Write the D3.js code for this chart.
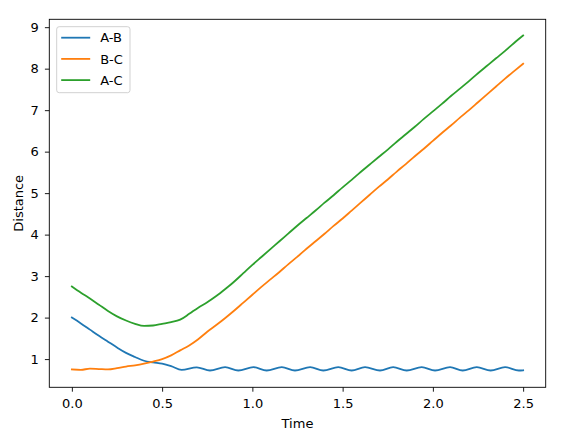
<!DOCTYPE html>
<html lang="en">
<head>
<meta charset="UTF-8">
<title>Distance vs Time</title>
<script src="https://d3js.org/d3.v7.min.js"></script>
<style>
    body { margin: 0; background: #fff; }
    text { font-family: "DejaVu Sans", sans-serif; }
</style>
</head>
<body>
<script>
    // sampled time grid for B-C and A-C
    var timeGrid = [0.00,0.05,0.10,0.15,0.20,0.25,0.30,0.35,0.40,0.45,0.50,0.55,0.60,0.65,0.70,0.75,0.80,0.85,0.90,0.95,
        1.00,1.05,1.10,1.15,1.20,1.25,1.30,1.35,1.40,1.45,1.50,1.55,1.60,1.65,1.70,1.75,1.80,1.85,1.90,1.95,
        2.00,2.05,2.10,2.15,2.20,2.25,2.30,2.35,2.40,2.45,2.50];
    var distBC = [0.75,0.74,0.77,0.76,0.75,0.78,0.82,0.85,0.89,0.94,1.00,1.09,1.21,1.33,1.48,1.66,1.82,1.99,2.17,2.36,
        2.55,2.74,2.92,3.10,3.29,3.47,3.66,3.84,4.02,4.21,4.39,4.58,4.77,4.96,5.15,5.33,5.52,5.70,5.89,6.07,
        6.26,6.45,6.63,6.82,7.00,7.19,7.38,7.57,7.76,7.94,8.12];
    var distAC = [2.75,2.60,2.46,2.31,2.16,2.03,1.93,1.85,1.80,1.81,1.85,1.89,1.95,2.09,2.24,2.37,2.52,2.69,2.87,3.07,
        3.27,3.46,3.65,3.84,4.03,4.22,4.40,4.58,4.77,4.95,5.14,5.32,5.51,5.69,5.87,6.05,6.24,6.42,6.60,6.79,
        6.97,7.15,7.34,7.52,7.70,7.89,8.07,8.25,8.43,8.62,8.80];

    // A-B: read at its peaks and troughs once it starts to oscillate
    var timeAB = [0.00,0.05,0.10,0.15,0.20,0.25,0.30,0.35,0.40,0.45,0.50,0.55,
        0.608,0.692,0.765,0.849,0.922,1.006,1.079,1.163,1.236,1.320,1.393,1.476,1.550,1.624,
        1.707,1.780,1.855,1.938,2.012,2.095,2.165,2.243,2.320,2.400,2.476,2.500];
    var distAB = [2.00,1.86,1.71,1.56,1.42,1.28,1.15,1.05,0.96,0.92,0.89,0.83,
        0.74,0.80,0.725,0.805,0.725,0.805,0.725,0.805,0.725,0.805,0.725,0.805,0.725,0.805,
        0.725,0.805,0.725,0.805,0.725,0.805,0.725,0.805,0.725,0.805,0.725,0.73];

    var seriesNames = ["A-B", "B-C", "A-C"];
    var seriesColors = ["#1f77b4", "#ff7f0e", "#2ca02c"];
    var xTicks = [0.0, 0.5, 1.0, 1.5, 2.0, 2.5];
    var yTicks = [1, 2, 3, 4, 5, 6, 7, 8, 9];

    var W = 582, H = 437;
    var plot = {left: 49.3, right: 545.7, top: 19.3, bottom: 387.3};

    var svg = d3.select("body").append("svg")
        .attr("width", W)
        .attr("height", H);

    var x = d3.scaleLinear().domain([-0.125, 2.625]).range([plot.left, plot.right]);
    var y = d3.scaleLinear().domain([0.32, 9.19]).range([plot.bottom, plot.top]);

    var series = [
        {name: seriesNames[0], t: timeAB, v: distAB},
        {name: seriesNames[1], t: timeGrid, v: distBC},
        {name: seriesNames[2], t: timeGrid, v: distAC}
    ];

    var line = d3.line()
        .x(function(d) { return x(d[0]); })
        .y(function(d) { return y(d[1]); })
        .curve(d3.curveMonotoneX);

    svg.selectAll("path.series")
        .data(series)
        .enter()
        .append("path")
        .attr("class", "series")
        .attr("d", function(s) { return line(s.t.map(function(t, i) { return [t, s.v[i]]; })); })
        .attr("fill", "none")
        .attr("stroke", function(s, i) { return seriesColors[i]; })
        .attr("stroke-width", 1.8)
        .attr("stroke-linejoin", "round")
        .attr("stroke-linecap", "square");

    // axes
    var xAxis = svg.append("g")
        .attr("transform", "translate(0," + plot.bottom + ")")
        .call(d3.axisBottom(x).tickValues(xTicks).tickFormat(d3.format(".1f"))
            .tickSize(4.4).tickSizeOuter(0).tickPadding(7.4));
    var yAxis = svg.append("g")
        .attr("transform", "translate(" + plot.left + ",0)")
        .call(d3.axisLeft(y).tickValues(yTicks).tickFormat(d3.format("d"))
            .tickSize(4.4).tickSizeOuter(0).tickPadding(6.2));

    [xAxis, yAxis].forEach(function(a) {
        a.select(".domain").remove();
        a.selectAll("line").attr("stroke", "#000").attr("stroke-width", 0.9);
        a.selectAll("text")
            .attr("fill", "#000")
            .style("font-size", "13px")
            .style("font-family", "'DejaVu Sans', sans-serif");
    });

    // frame (spines)
    svg.append("rect")
        .attr("x", plot.left)
        .attr("y", plot.top)
        .attr("width", plot.right - plot.left)
        .attr("height", plot.bottom - plot.top)
        .attr("fill", "none")
        .attr("stroke", "#000")
        .attr("stroke-width", 0.9);

    // axis labels
    svg.append("text")
        .attr("x", (plot.left + plot.right) / 2)
        .attr("y", 428)
        .attr("text-anchor", "middle")
        .style("font-size", "13px")
        .text("Time");

    svg.append("text")
        .attr("transform", "translate(23," + (plot.top + plot.bottom) / 2 + ") rotate(-90)")
        .attr("text-anchor", "middle")
        .style("font-size", "13px")
        .text("Distance");

    // legend
    var legend = svg.append("g").attr("transform", "translate(56.7,26.7)");
    legend.append("rect")
        .attr("width", 73.3)
        .attr("height", 66)
        .attr("rx", 2.5)
        .attr("fill", "#fff")
        .attr("fill-opacity", 0.8)
        .attr("stroke", "#cccccc")
        .attr("stroke-width", 0.9);

    var items = legend.selectAll("g.item")
        .data(seriesNames)
        .enter()
        .append("g")
        .attr("class", "item")
        .attr("transform", function(d, i) { return "translate(0," + (11 + i * 21.2) + ")"; });
    items.append("line")
        .attr("x1", 4.5).attr("x2", 33.5)
        .attr("stroke", function(d, i) { return seriesColors[i]; })
        .attr("stroke-width", 1.8);
    items.append("text")
        .attr("x", 43.5)
        .attr("dy", "0.36em")
        .style("font-size", "13px")
        .text(function(d) { return d; });
</script>
</body>
</html>
